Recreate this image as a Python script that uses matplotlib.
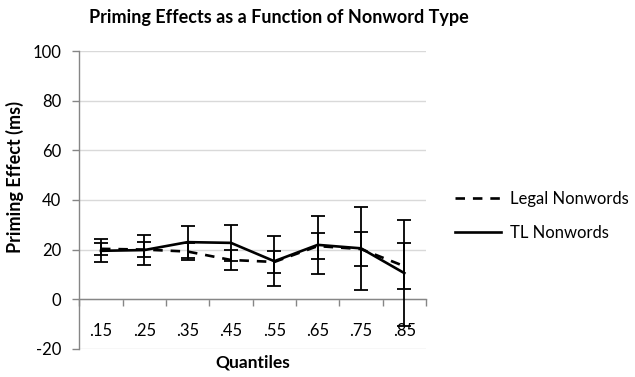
import matplotlib
matplotlib.use("Agg")
import matplotlib.pyplot as plt
import numpy as np

quantiles = [".15", ".25", ".35", ".45", ".55", ".65", ".75", ".85"]
legal = [20.3, 20.0, 19.2, 15.8, 15.0, 21.4, 20.2, 13.3]
legal_err = [2.5, 3.0, 3.4, 4.0, 4.3, 5.2, 6.8, 9.3]
tl = [19.5, 19.8, 23.0, 22.7, 15.3, 21.9, 20.5, 10.5]
tl_err = [4.6, 6.2, 6.5, 7.3, 10.2, 11.8, 16.8, 21.5]

plt.rcParams['font.family'] = ['Lato', 'DejaVu Sans']
plt.rcParams['axes.unicode_minus'] = False

fig = plt.figure(figsize=(6.35, 3.77), dpi=100)
ax = fig.add_axes([79.3/635, 1-348.7/377, (426-79.3)/635, (348.7-51.3)/377])

x = np.arange(len(quantiles))
grid_c = '#d9d9d9'
axis_c = '#868686'

ax.set_ylim(-20, 100)
ax.set_xlim(-0.5, len(quantiles)-0.5)
ax.set_yticks([-20, 0, 20, 40, 60, 80, 100])
ax.yaxis.grid(True, color=grid_c, lw=1.0)
ax.set_axisbelow(True)

for s in ['top', 'right']:
    ax.spines[s].set_visible(False)
ax.spines['left'].set_color(axis_c)
ax.spines['bottom'].set_color(axis_c)
ax.spines['bottom'].set_position(('data', 0))
ax.spines['left'].set_linewidth(1.0)
ax.spines['bottom'].set_linewidth(1.0)

ax.set_xticks(np.arange(-0.5, len(quantiles), 1.0))
ax.set_xticklabels([])
ax.set_xticks(x, minor=True)
ax.set_xticklabels(quantiles, minor=True)
ax.tick_params(axis='x', which='major', direction='out', length=5, color=axis_c, width=1.0)
ax.tick_params(axis='x', which='minor', length=0, pad=17, labelsize=12)
ax.tick_params(axis='y', direction='out', length=5, color=axis_c, width=1.0, pad=8, labelsize=12)

ax.errorbar(x, legal, yerr=legal_err, fmt='none', ecolor='black', elinewidth=1.3,
            capsize=5, capthick=1.3, zorder=3)
ax.errorbar(x, tl, yerr=tl_err, fmt='none', ecolor='black', elinewidth=1.3,
            capsize=5, capthick=1.3, zorder=3)
ax.plot(x, legal, color='black', lw=1.9, linestyle=(0, (3.6, 3.0)), label='Legal Nonwords', zorder=4)
ax.plot(x, tl, color='black', lw=1.9, label='TL Nonwords', zorder=4)

fig.text(279/635, 1-17/377, 'Priming Effects as a Function of Nonword Type',
         ha='center', va='center', fontsize=13, fontweight='bold')
fig.text(15/635, 1-177/377, 'Priming Effect (ms)', rotation=90, ha='center', va='center',
         fontsize=13, fontweight='bold')
fig.text(253/635, 1-362/377, 'Quantiles', ha='center', va='center', fontsize=12.5, fontweight='bold')

leg = ax.legend(loc='upper left', bbox_to_anchor=(455/635, 1-191/377), bbox_transform=fig.transFigure,
                frameon=False, fontsize=12, handlelength=2.75, handletextpad=0.55, labelspacing=1.1,
                borderaxespad=0, borderpad=0)

fig.savefig('out.png', dpi=100)
